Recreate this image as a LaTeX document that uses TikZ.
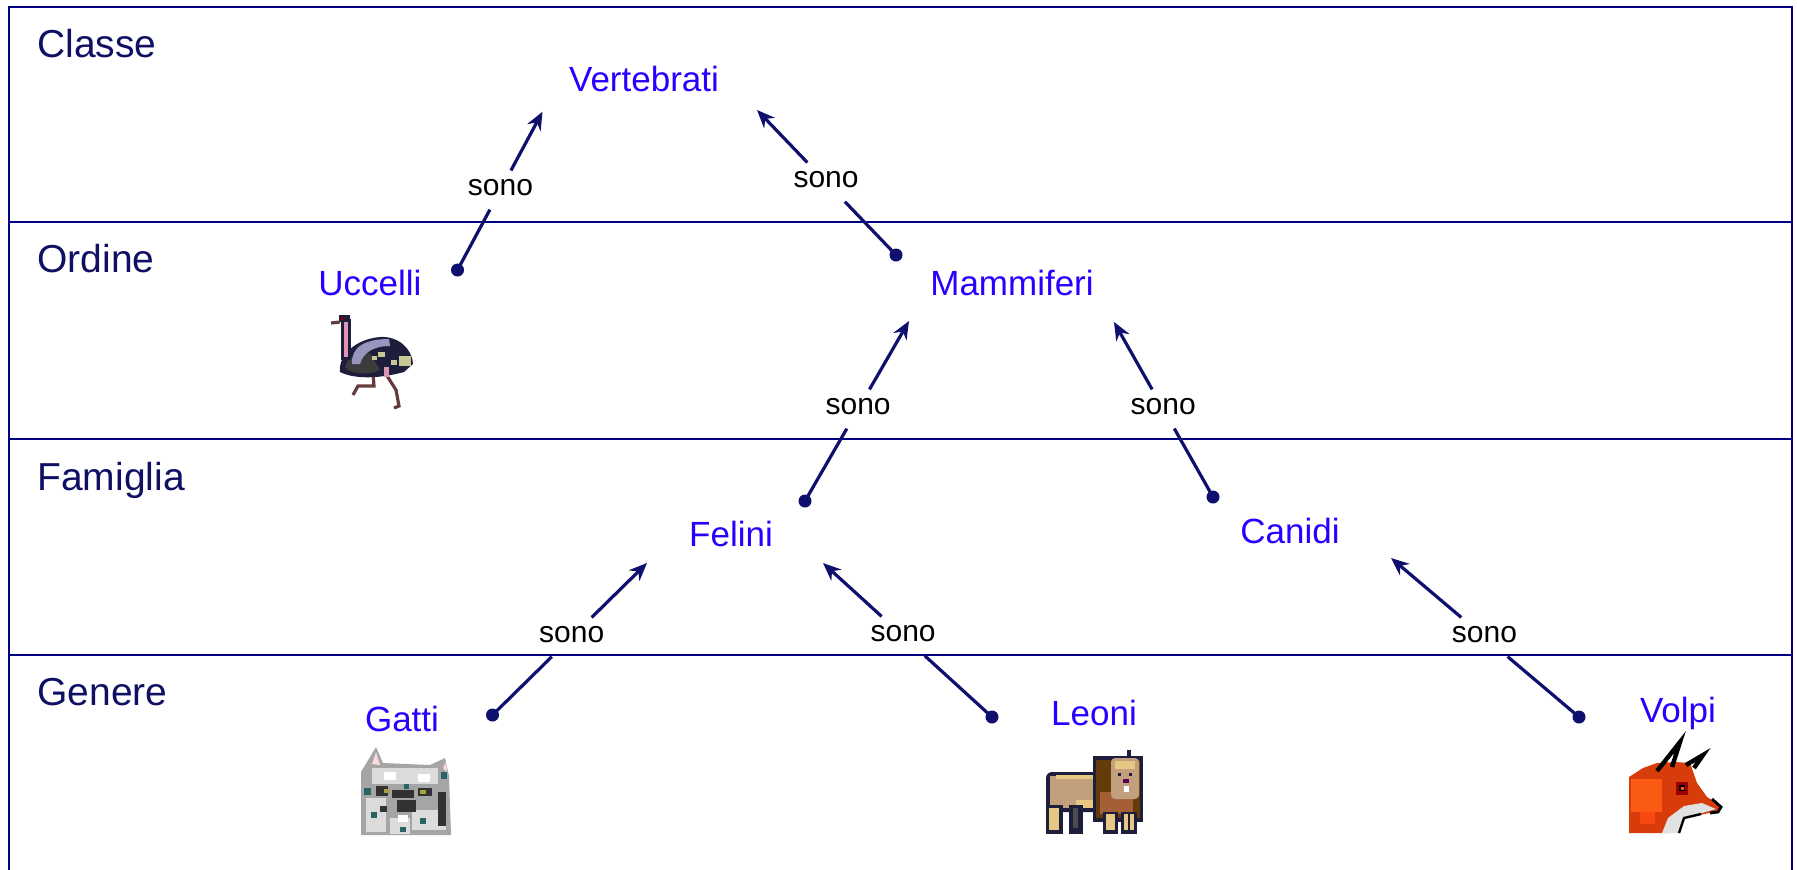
\documentclass[tikz,border=0pt]{standalone}
\usepackage{fontspec}
\setmainfont{Liberation Sans}
\usetikzlibrary{arrows.meta}

\definecolor{rulecol}{RGB}{0,0,128}
\definecolor{rowtxt}{RGB}{15,15,100}
\definecolor{taxon}{RGB}{40,0,255}
\definecolor{linkcol}{RGB}{15,15,110}
% animal colours
\definecolor{ostdark}{RGB}{30,30,60}
\definecolor{ostbody}{RGB}{60,60,60}
\definecolor{ostwing}{RGB}{150,150,190}
\definecolor{ostcream}{RGB}{200,200,150}
\definecolor{ostneck}{RGB}{220,150,180}
\definecolor{ostleg}{RGB}{100,60,60}
\definecolor{catlight}{RGB}{220,220,220}
\definecolor{catmid}{RGB}{165,165,165}
\definecolor{catdark}{RGB}{50,50,50}
\definecolor{catteal}{RGB}{40,100,100}
\definecolor{lionbody}{RGB}{195,160,125}
\definecolor{lionmane}{RGB}{100,60,10}
\definecolor{lionrust}{RGB}{165,95,55}
\definecolor{lionline}{RGB}{30,30,60}
\definecolor{lionpale}{RGB}{230,200,130}
\definecolor{foxred}{RGB}{215,60,10}
\definecolor{foxorange}{RGB}{250,90,20}
\definecolor{foxwhite}{RGB}{225,225,225}

\begin{document}
\begin{tikzpicture}[x=0.5pt,y=-0.5pt,
  rowlabel/.style={anchor=base west, text=rowtxt, inner sep=0pt,
    font=\fontsize{19.5pt}{22pt}\selectfont},
  taxonlabel/.style={anchor=base, text=taxon, inner sep=0pt,
    font=\fontsize{17.5pt}{20pt}\selectfont},
  sono/.style={font=\fontsize{15pt}{17pt}\selectfont, text=black,
    text height=0.52em, text depth=0pt, inner xsep=2pt, inner ysep=7pt},
  rowline/.style={draw=rulecol, line width=1.2pt},
  linkline/.style={draw=linkcol, line width=1.6pt},
  isa/.style={linkline, -{Stealth[length=9pt,width=7.5pt]}},
  enddot/.style={fill=linkcol}
]
\useasboundingbox (0,0) rectangle (1797,869);

% frame and rank separators
\begin{scope}
  \clip (0,0) rectangle (1797,869);
  \draw[rowline, line width=1.3pt] (9,900) -- (9,7) -- (1792,7) -- (1792,900);
  \draw[rowline] (9,222) -- (1792,222);
  \draw[rowline] (9,439) -- (1792,439);
  \draw[rowline] (9,655) -- (1792,655);
\end{scope}

% rank names
\node[rowlabel] (classe)   at (37,57)  {Classe};
\node[rowlabel] (ordine)   at (37,272) {Ordine};
\node[rowlabel] (famiglia) at (37,490) {Famiglia};
\node[rowlabel] (genere)   at (37,705) {Genere};

% taxa
\node[taxonlabel] (vert)  at (644,91)   {Vertebrati};
\node[taxonlabel] (ucc)   at (370,295)  {Uccelli};
\node[taxonlabel] (mamm)  at (1012,295) {Mammiferi};
\node[taxonlabel] (fel)   at (731,546)  {Felini};
\node[taxonlabel] (can)   at (1290,543) {Canidi};
\node[taxonlabel] (gatti) at (402,731)  {Gatti};
\node[taxonlabel] (leoni) at (1094,725) {Leoni};
\node[taxonlabel] (volpi) at (1678,722) {Volpi};

% link end points: dot at the subordinate taxon, tip at the superior one
\coordinate (d1) at (457.5,270);  \coordinate (t1) at (542.5,111.7);
\coordinate (d2) at (896,255);    \coordinate (t2) at (757,110);
\coordinate (d3) at (805,501);    \coordinate (t3) at (909,321);
\coordinate (d4) at (1213,497);   \coordinate (t4) at (1114,322);
\coordinate (d5) at (492.5,715);  \coordinate (t5) at (647,563);
\coordinate (d6) at (992,717);    \coordinate (t6) at (823,563);
\coordinate (d7) at (1579,717);   \coordinate (t7) at (1391,558);

% "sono" labels along each link
\path (d1) -- node[sono, pos=0.505] (s1) {sono} (t1);
\path (d2) -- node[sono, pos=0.503] (s2) {sono} (t2);
\path (d3) -- node[sono, pos=0.511] (s3) {sono} (t3);
\path (d4) -- node[sono, pos=0.503] (s4) {sono} (t4);
\path (d5) -- node[sono, pos=0.513] (s5) {sono} (t5);
\path (d6) -- node[sono, pos=0.526] (s6) {sono} (t6);
\path (d7) -- node[sono, pos=0.503] (s7) {sono} (t7);

% links
\foreach \i in {1,...,7} {
  \draw[linkline] (d\i) -- (s\i);
  \draw[isa] (s\i) -- (t\i);
  \fill[enddot] (d\i) circle (6.5);
}

% ---- ostrich ----
\draw[ostleg, line width=1.6pt] (373,373) -- (374,386) -- (358,386) -- (353,395);
\draw[ostleg, line width=1.6pt] (384,371) -- (396,390) -- (399,406) -- (394,408);
\fill[ostdark] (340,372) .. controls (338,355) and (356,339) .. (380,337)
  .. controls (398,336) and (412,348) .. (413,364) -- (404,372)
  .. controls (382,378) and (356,380) .. (340,372) -- cycle;
\fill[ostbody] (345,368) .. controls (346,358) and (358,352) .. (370,353)
  -- (380,370) .. controls (370,375) and (355,375) .. (345,368) -- cycle;
\fill[ostwing] (352,364) .. controls (351,347) and (365,339) .. (389,339)
  -- (390,346) .. controls (373,346) and (363,353) .. (360,364) -- cycle;
\fill[ostcream] (378,352) rectangle (385,357);
\fill[ostcream] (399,356) rectangle (411,366);
\fill[ostcream] (391,360) rectangle (397,365);
\fill[ostcream] (372,356) rectangle (377,360);
\fill[ostneck] (384,367) rectangle (389,377);
\fill[ostdark] (341,319) rectangle (351,360);
\fill[ostneck] (344,322) rectangle (348,357);
\fill[ostdark] (339,315) rectangle (350,322);
\fill[red!50!black] (341,317) rectangle (344,320);
\draw[ostleg, line width=1.6pt] (340,322) -- (331,323);

% ---- cat ----
\fill[catmid] (361,772) -- (376,747) -- (383,763) -- (430,765) -- (445,758)
  -- (449,776) -- (451,835) -- (361,835) -- cycle;
\fill[pink!60] (372,764) -- (376,752) -- (380,765) -- cycle;
\fill[pink!60] (443,768) -- (446,762) -- (447,772) -- cycle;
\fill[catlight] (372,768) rectangle (438,784);
\fill[catlight] (366,798) rectangle (386,832);
\fill[catlight] (412,810) rectangle (446,830);
\fill[catlight] (390,818) rectangle (410,834);
\fill[white] (384,772) rectangle (396,780);
\fill[white] (418,774) rectangle (430,782);
\fill[catdark] (376,786) rectangle (388,796);
\fill[catdark] (392,790) rectangle (414,798);
\fill[catdark] (418,788) rectangle (432,796);
\fill[catdark] (397,800) rectangle (416,812);
\fill[catdark] (438,792) rectangle (446,826);
\fill[catdark] (380,806) rectangle (387,812);
\fill[catteal] (364,788) rectangle (371,795);
\fill[catteal] (441,772) rectangle (447,779);
\fill[catteal] (371,812) rectangle (377,818);
\fill[catteal] (420,818) rectangle (426,824);
\fill[catteal] (400,827) rectangle (406,832);
\fill[catteal] (404,784) rectangle (409,789);
\fill[yellow!60!black] (384,789) rectangle (390,793);
\fill[yellow!60!black] (420,790) rectangle (426,794);
\fill[white] (398,815) rectangle (408,822);

% ---- lion ----
\fill[lionline, rounded corners=3] (1046,772) rectangle (1102,812);
\fill[lionbody] (1050,776) rectangle (1099,808);
\fill[lionpale] (1056,775) rectangle (1095,779);
\fill[lionpale] (1076,800) rectangle (1094,808);
\fill[lionline] (1046,805) rectangle (1063,834);
\fill[lionpale] (1049,808) rectangle (1059,830);
\fill[lionline] (1069,805) rectangle (1083,834);
\fill[black!70] (1073,808) rectangle (1078,828);
\fill[lionline] (1093,756) rectangle (1143,822);
\fill[lionmane] (1096,760) rectangle (1140,818);
\fill[lionrust] (1100,792) rectangle (1133,814);
\fill[lionbody, rounded corners=2] (1111,758) rectangle (1139,799);
\fill[lionpale] (1115,761) rectangle (1135,769);
\fill[lionline] (1118,773) rectangle (1121,776);
\fill[lionline] (1129,773) rectangle (1132,776);
\fill[violet!70!black] (1123,779) rectangle (1129,783);
\fill[white] (1124,786) rectangle (1129,792);
\fill[lionline] (1127,750) rectangle (1131,757);
\fill[lionline] (1103,812) rectangle (1118,834);
\fill[lionpale] (1106,814) rectangle (1115,830);
\fill[lionline] (1121,812) rectangle (1137,834);
\fill[lionpale] (1124,814) rectangle (1128,830);
\fill[lionpale] (1130,814) rectangle (1134,830);

% ---- fox ----
\fill[foxred] (1629,777) -- (1643,768) -- (1657,763) -- (1675,762) -- (1690,763)
  -- (1697,783) -- (1707,797) -- (1717,803) -- (1721,809) -- (1713,812)
  -- (1700,815) -- (1677,820) -- (1670,833) -- (1629,833) -- cycle;
\fill[foxorange] (1631,779) rectangle (1662,812);
\fill[foxorange!80!red] (1640,812) rectangle (1655,824);
\draw[black, line width=2.2pt, line join=miter] (1657,771) -- (1680,742) -- (1672,767);
\draw[black, line width=2.2pt, line join=miter] (1686,765) -- (1703,755) -- (1694,768);
\fill[foxwhite] (1684,806) -- (1702,803) -- (1716,809) -- (1702,813)
  -- (1684,818) -- (1678,833) -- (1662,833) -- (1668,818) -- cycle;
\draw[black, line width=1.2pt] (1701,814) -- (1684,818) -- (1679,833);
\draw[black, line width=1.4pt] (1712,799) -- (1721,807) -- (1718,812) -- (1710,813);
\fill[red!60!black] (1676,782) rectangle (1688,795);
\fill[black] (1679,785) rectangle (1685,791);
\fill[foxorange] (1681,787) rectangle (1684,790);
\end{tikzpicture}
\end{document}
